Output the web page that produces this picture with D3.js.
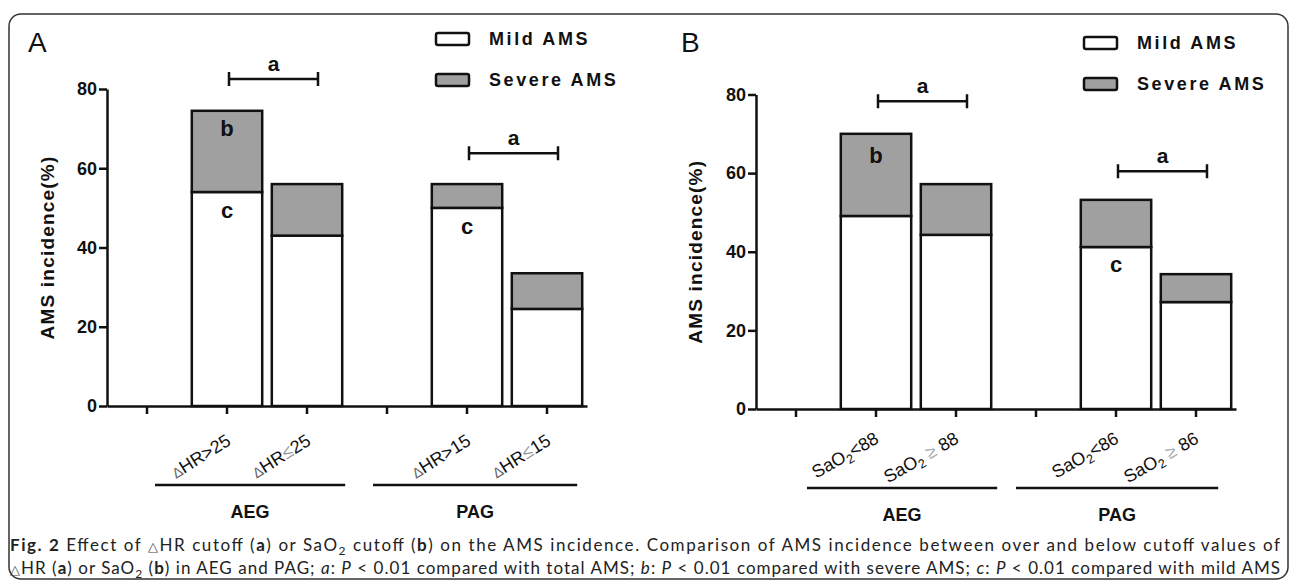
<!DOCTYPE html>
<html><head><meta charset="utf-8">
<script src="https://cdn.jsdelivr.net/npm/d3@7"></script>
<style>
html,body{margin:0;padding:0;background:#fff;}
svg{display:block;}
</style></head><body>
<svg id="c" width="1292" height="581"></svg>
<script>
// ---------- data ----------
const yTicks = [0, 20, 40, 60, 80];
const seriesNames = ["Mild AMS", "Severe AMS"];
const groupNames = ["AEG", "PAG"];

const labelsA = ["", "ΔHR>25", "ΔHR≤25", "", "ΔHR>15", "ΔHR≤15"];
const mildA   = [null, 54.0, 43.0, null, 50.0, 24.5];
const severeA = [null, 20.5, 13.0, null, 6.0, 9.0];

const labelsB = ["", "SaO2<88", "SaO2 ≥ 88", "", "SaO2<86", "SaO2 ≥ 86"];
const mildB   = [null, 49.1, 44.3, null, 41.2, 27.2];
const severeB = [null, 20.9, 12.9, null, 12.0, 7.1];

// significance brackets: [fromCategory, toCategory, level(%)]
const bracketsA = [[1, 2, 82.5], [4, 5, 63.8]];
const bracketsB = [[1, 2, 78.3], [4, 5, 60.5]];
// in-bar letters: [category, segment, letter]
const notesA = [[1, "severe", "b"], [1, "mild", "c"], [4, "mild", "c"]];
const notesB = [[1, "severe", "b"], [4, "mild", "c"]];

// ---------- drawing ----------
const svg = d3.select("#c");
const FONT = "'Liberation Sans', Arial, sans-serif";

svg.append("rect").attr("x", 9).attr("y", 14).attr("width", 1279).attr("height", 565)
  .attr("rx", 12).attr("fill", "none").attr("stroke", "#333").attr("stroke-width", 1.5);

function drawLabel(sel, s) {
  if (s.startsWith("SaO2")) {
    sel.append("tspan").text("SaO");
    sel.append("tspan").attr("font-size", "0.7em").attr("dy", 4).text("2");
    const rest = s.slice(4);
    const parts = rest.split("≥");
    if (parts.length > 1) {
      sel.append("tspan").attr("dy", -4).text(parts[0]);
      sel.append("tspan").attr("fill", "#aaa").text("≥");
      sel.append("tspan").text(parts[1]);
    } else {
      sel.append("tspan").attr("dy", -4).text(rest);
    }
  } else if (s.startsWith("Δ")) {
    sel.append("tspan").attr("font-size", "0.8em").attr("fill", "#666").text("Δ");
    const rest = s.slice(1);
    const parts = rest.split("≤");
    if (parts.length > 1) {
      sel.append("tspan").text(parts[0]);
      sel.append("tspan").attr("fill", "#999").text("≤");
      sel.append("tspan").text(parts[1]);
    } else sel.append("tspan").text(rest);
  } else sel.text(s);
}

function drawPanel(cfg) {
  const g = svg.append("g");
  const idx = d3.range(cfg.labels.length);
  const x = d3.scaleBand().domain(idx).range([cfg.x0, cfg.x1]).paddingInner(0.12).paddingOuter(0.06);
  const y = d3.scaleLinear().domain([0, 80]).range([cfg.yBase, cfg.yTop]);
  const cx = i => x(i) + x.bandwidth() / 2;

  const rows = idx.filter(i => cfg.mild[i] != null).map(i => ({i, mild: cfg.mild[i], severe: cfg.severe[i]}));
  const stack = d3.stack().keys(["mild", "severe"])(rows);
  const fills = {mild: "#ffffff", severe: "#a0a0a0"};
  stack.forEach(layer => {
    g.selectAll(null).data(layer).join("rect")
      .attr("x", d => x(d.data.i))
      .attr("width", x.bandwidth())
      .attr("y", d => y(d[1]))
      .attr("height", d => y(d[0]) - y(d[1]))
      .attr("fill", fills[layer.key])
      .attr("stroke", "#111").attr("stroke-width", 2.5);
  });

  // axes
  const yAxis = g.append("g").attr("transform", `translate(${cfg.x0},0)`)
    .call(d3.axisLeft(y).tickValues(yTicks).tickSize(8).tickSizeOuter(0).tickPadding(2));
  const xAxis = g.append("g").attr("transform", `translate(0,${cfg.yBase})`)
    .call(d3.axisBottom(x).tickSize(8).tickSizeOuter(0).tickFormat(() => ""));
  [yAxis, xAxis].forEach(a => {
    a.selectAll("path,line").attr("stroke", "#111").attr("stroke-width", 2.5);
  });
  yAxis.selectAll("text").attr("font-family", FONT).attr("font-weight", "bold")
    .attr("font-size", 18).attr("fill", "#111");

  // rotated category labels
  idx.forEach(i => {
    if (!cfg.labels[i]) return;
    const t = g.append("text")
      .attr("transform", `translate(${cx(i) + cfg.ldx},${cfg.yBase + cfg.ldy}) rotate(${cfg.angle})`)
      .attr("text-anchor", "end").attr("font-family", FONT).attr("font-size", 18).attr("fill", "#111");
    drawLabel(t, cfg.labels[i]);
  });

  // y label
  g.append("text")
    .attr("transform", `translate(${cfg.ylx},${(y(0) + y(80)) / 2}) rotate(-90)`)
    .attr("text-anchor", "middle").attr("font-family", FONT).attr("font-weight", "bold")
    .attr("font-size", 19).attr("letter-spacing", 1.2).attr("fill", "#111")
    .text("AMS incidence(%)");

  // group lines
  groupNames.forEach((name, k) => {
    const first = k * 3, last = k * 3 + 2;
    const xs = cx(first) + (k === 0 ? cfg.gOff[0] : cfg.gOff[2]);
    const xe = x(last) + x.bandwidth() + (k === 0 ? cfg.gOff[1] : cfg.gOff[3]);
    g.append("line").attr("x1", xs).attr("x2", xe).attr("y1", cfg.gy).attr("y2", cfg.gy)
      .attr("stroke", "#111").attr("stroke-width", 2.5);
    g.append("text").attr("x", (xs + xe) / 2).attr("y", cfg.gy + 33)
      .attr("text-anchor", "middle").attr("font-family", FONT).attr("font-weight", "bold")
      .attr("font-size", 18).attr("fill", "#111").text(name);
  });

  // brackets
  cfg.brackets.forEach(([a, b, lvl]) => {
    const x1 = cx(a) + 2, x2 = cx(b) + 11, yy = y(lvl);
    g.append("path").attr("d", `M${x1},${yy}H${x2}M${x1},${yy - 7}V${yy + 7}M${x2},${yy - 7}V${yy + 7}`)
      .attr("stroke", "#111").attr("stroke-width", 2.5).attr("fill", "none");
    g.append("text").attr("x", (x1 + x2) / 2).attr("y", yy - 8).attr("text-anchor", "middle")
      .attr("font-family", FONT).attr("font-weight", "bold").attr("font-size", 21).attr("fill", "#111").text("a");
  });

  // in-bar letters
  cfg.notes.forEach(([i, seg, letter]) => {
    const top = seg === "severe" ? cfg.mild[i] + cfg.severe[i] : cfg.mild[i];
    g.append("text").attr("x", cx(i)).attr("y", y(top) + cfg.noteDy[seg]).attr("text-anchor", "middle")
      .attr("font-family", FONT).attr("font-weight", "bold").attr("font-size", 22).attr("fill", "#111").text(letter);
  });

  // legend
  seriesNames.forEach((name, k) => {
    const ly = cfg.legY + k * 41;
    g.append("rect").attr("x", cfg.legX).attr("y", ly - 12).attr("width", 33).attr("height", 12).attr("rx", 2)
      .attr("fill", k === 0 ? "#fff" : "#a0a0a0").attr("stroke", "#111").attr("stroke-width", 2.5);
    g.append("text").attr("x", cfg.legX + 53).attr("y", ly).attr("font-family", FONT).attr("font-weight", "bold")
      .attr("font-size", 18).attr("letter-spacing", 2.6).attr("fill", "#111").text(name);
  });

  // panel letter
  g.append("text").attr("x", cfg.px).attr("y", 52).attr("font-family", FONT).attr("font-size", 28)
    .attr("fill", "#111").text(cfg.letter);
}

drawPanel({letter: "A", px: 28, labels: labelsA, mild: mildA, severe: severeA,
  brackets: bracketsA, notes: notesA, noteDy: {severe: 25, mild: 26},
  x0: 107, x1: 587, yBase: 406, yTop: 89, angle: -32, ldx: 5, ldy: 38, ylx: 54,
  gy: 485, gOff: [8, 3, -14, -5], legX: 436, legY: 45});
drawPanel({letter: "B", px: 681, labels: labelsB, mild: mildB, severe: severeB,
  brackets: bracketsB, notes: notesB, noteDy: {severe: 29, mild: 25},
  x0: 756, x1: 1236, yBase: 409, yTop: 94.5, angle: -30, ldx: 4, ldy: 33, ylx: 702,
  gy: 488, gOff: [11, 6, -20, -13], legX: 1084, legY: 49});

// caption
const cap = svg.append("g").attr("font-family", "Lato, 'Noto Sans', sans-serif")
  .attr("font-size", 17).attr("fill", "#222");
function capLine(yy, parts) {
  const t = cap.append("text").attr("x", 10).attr("y", yy).attr("textLength", 1270).attr("lengthAdjust", "spacing");
  parts.forEach(([s, style]) => {
    const ts = t.append("tspan").text(s);
    if (style === "b") ts.attr("font-weight", "bold");
    if (style === "i") ts.attr("font-style", "italic");
    if (style === "sub") ts.attr("font-size", 12).attr("dy", 4);
    if (style === "up") ts.attr("dy", -4);
    if (style === "tri") ts.attr("font-size", 13).attr("fill", "#444");
  });
}
capLine(551, [["Fig. 2", "b"], [" Effect of "], ["△", "tri"], ["HR cutoff ("], ["a", "b"], [") or SaO"], ["2", "sub"],
  [" cutoff (", "up"], ["b", "b"], [") on the AMS incidence. Comparison of AMS incidence between over and below cutoff values of"]]);
capLine(574, [["△", "tri"], ["HR ("], ["a", "b"], [") or SaO"], ["2", "sub"], [" (", "up"], ["b", "b"],
  [") in AEG and PAG; "], ["a", "i"], [": "], ["P", "i"], [" < 0.01 compared with total AMS; "], ["b", "i"], [": "], ["P", "i"],
  [" < 0.01 compared  with severe AMS; "], ["c", "i"], [": "], ["P", "i"], [" < 0.01  compared with mild AMS"]]);
</script>
</body></html>
